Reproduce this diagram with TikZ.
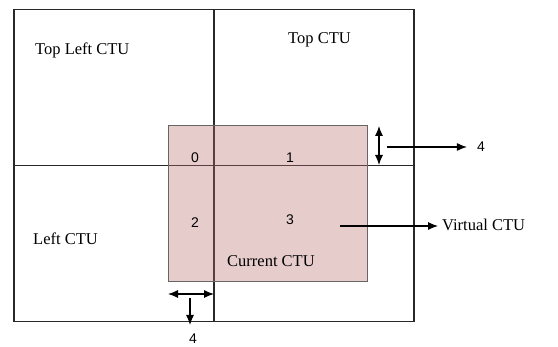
\documentclass[tikz,border=0pt]{standalone}
\usepackage{fontspec}
\setmainfont{Liberation Serif}
\newfontfamily\numfont{Liberation Sans}
\usetikzlibrary{arrows.meta}
\definecolor{curcol}{RGB}{185,110,110}
\definecolor{linecol}{RGB}{40,40,40}

\begin{document}
\begin{tikzpicture}[x=1pt, y=-1pt,
    cell/.style={rectangle, draw=linecol, line width=1.3pt, minimum width=200pt, minimum height=156pt, inner sep=0pt},
    cur/.style={rectangle, draw=gray!80!black, fill=curcol, fill opacity=0.35, line width=1pt, minimum width=199pt, minimum height=156pt, inner sep=0pt},
    lbl/.style={anchor=base west, font=\fontsize{16.5}{18}\selectfont, inner sep=0pt},
    num/.style={font=\numfont\fontsize{14}{16}\selectfont, inner sep=0pt},
    arr/.style={-{Latex[length=10pt, width=8pt]}, line width=1.1pt},
    darr/.style={{Latex[length=10pt, width=8pt]}-{Latex[length=10pt, width=8pt]}, line width=1.1pt}]

    \useasboundingbox (0,0) rectangle (558,347);

    % neighbouring CTUs
    \node[cell] (tl) at (114,87.5) {};
    \node[cell] (tr) at (314,87.5) {};
    \node[cell] (bl) at (114,243.5) {};
    \node[cell] (br) at (314,243.5) {};

    % current CTU
    \node[cur] (cu) at (267.5,204) {};

    \node[lbl] (tltxt) at (35,55) {Top Left CTU};
    \node[lbl] (trtxt) at (288,44) {Top CTU};
    \node[lbl] (bltxt) at (33,245) {Left CTU};
    \node[lbl] (cutxt) at (227,267) {Current CTU};
    \node[lbl] (virt) at (442,231) {Virtual CTU};

    \node[num] (n0) at (195,158) {0};
    \node[num] (n1) at (290,158) {1};
    \node[num] (n2) at (195,223) {2};
    \node[num] (n3) at (290,220) {3};
    \node[num] (fourr) at (481,147) {4};
    \node[num] (fourb) at (193,339) {4};

    \coordinate (vt) at (379,126);
    \coordinate (vb) at (379,165);
    \coordinate (vs) at (387,147);
    \coordinate (hl) at (168,294);
    \coordinate (hr) at (214,294);
    \coordinate (hd) at (190,298);
    \coordinate (cs) at (340,226);

    \draw[darr] (vt) -- (vb);
    \draw[arr, shorten >=10pt] (vs) -- (fourr);
    \draw[darr] (hl) -- (hr);
    \draw[arr, shorten >=9pt] (hd) -- (hd |- fourb.north);
    \draw[arr, shorten >=4pt] (cs) -- (cs -| virt.west);
\end{tikzpicture}
\end{document}
